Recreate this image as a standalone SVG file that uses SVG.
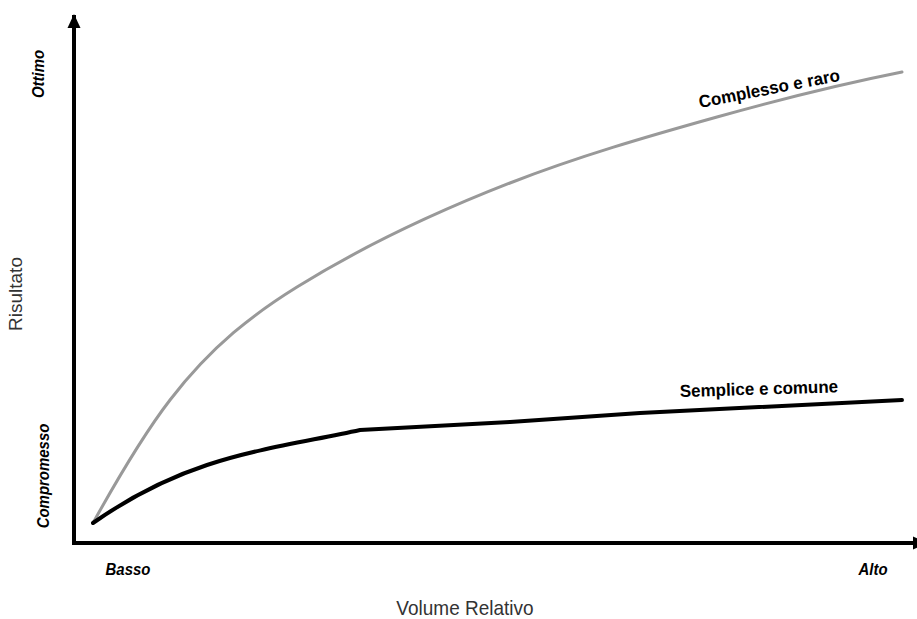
<svg xmlns="http://www.w3.org/2000/svg" width="917" height="619" viewBox="0 0 917 619">
<defs>
<marker id="arr" viewBox="0 0 14 14" refX="13" refY="7" markerWidth="14" markerHeight="14" markerUnits="userSpaceOnUse" orient="auto">
<path d="M0,0.5 L14,7 L0,13.5 z" fill="#000"/>
</marker>
<style>
.axis{stroke:#000;stroke-width:4;fill:none}
.tick{font-family:"Liberation Sans",Arial,sans-serif;font-weight:bold;font-style:italic;font-size:17px;fill:#000}
.title{font-family:"Liberation Sans",Arial,sans-serif;font-size:19px;fill:#333}
.lbl{font-family:"Liberation Sans",Arial,sans-serif;font-weight:bold;font-size:17.5px;fill:#000}
.curve{fill:none;stroke-linejoin:round;stroke-linecap:round}
</style>
</defs>
<rect width="917" height="619" fill="#fff"/>
<g id="connectors">
<line class="axis" x1="74" y1="545" x2="74" y2="15" marker-end="url(#arr)"/>
<line class="axis" x1="72" y1="543" x2="926" y2="543" marker-end="url(#arr)"/>
</g>
<g id="complesso">
<path class="curve" stroke="#999" stroke-width="3" d="M93,523 C118.7,476.7 144.3,433.4 170,400 C212.3,345 254.7,313.2 297,287 C368,243 439,210.7 510,183 C579,156.1 648,136.3 717,117 C778.7,99.7 840.3,84.3 902,72"/>
<text class="lbl" transform="translate(700,108) rotate(-11) scale(0.97,1)">Complesso e raro</text>
</g>
<g id="semplice">
<path class="curve" stroke="#000" stroke-width="4" d="M93,523 C131,496.4 169,477.5 207,465 C258,448.2 309,441.2 360,430 L510,422 L640,413 L902,400"/>
<text class="lbl" transform="translate(680,397) rotate(-1.7) scale(0.97,1)">Semplice e comune</text>
</g>
<g id="y-labels">
<text class="tick" text-anchor="middle" transform="translate(44,74) rotate(-90) scale(0.88,1)">Ottimo</text>
<text class="tick" text-anchor="middle" transform="translate(49,476) rotate(-90) scale(0.88,1)">Compromesso</text>
<text class="title" text-anchor="middle" transform="translate(22,294) rotate(-90)">Risultato</text>
</g>
<g id="x-labels">
<text class="tick" text-anchor="middle" transform="translate(128,575) scale(0.88,1)">Basso</text>
<text class="tick" text-anchor="middle" transform="translate(873,575) scale(0.88,1)">Alto</text>
<text class="title" text-anchor="middle" transform="translate(465,615) scale(1,1.1)">Volume Relativo</text>
</g>
</svg>
